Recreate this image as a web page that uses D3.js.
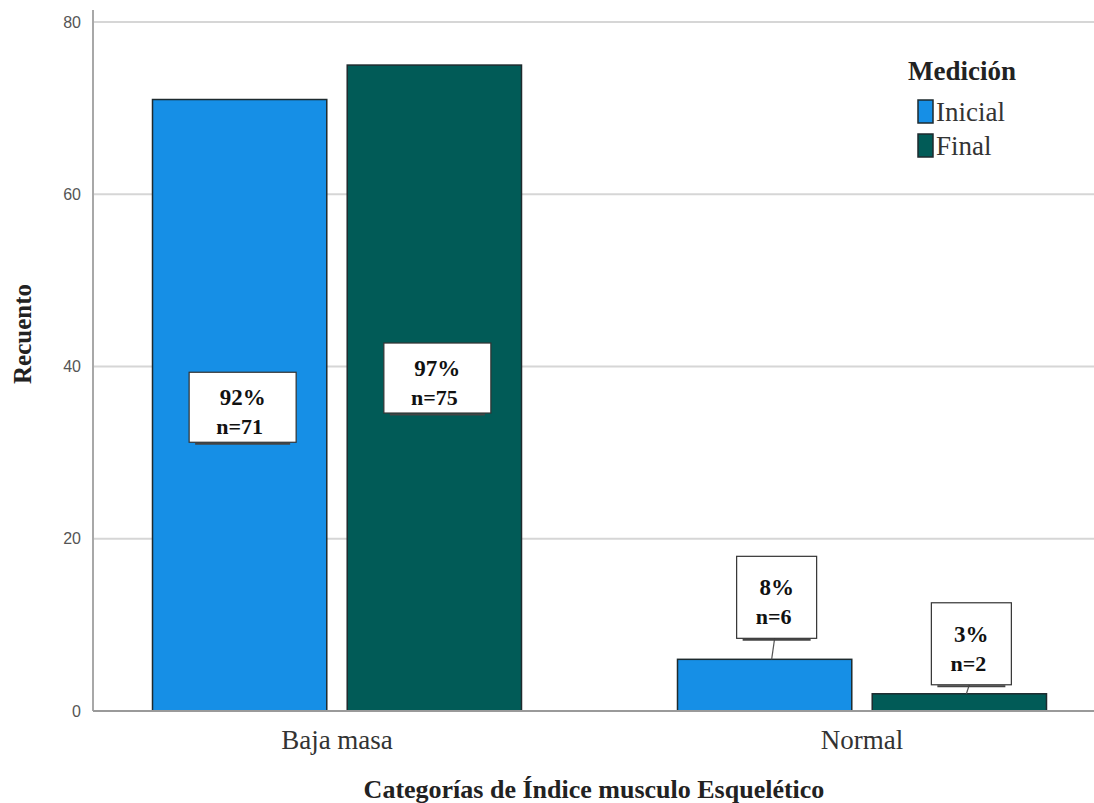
<!DOCTYPE html>
<html><head><meta charset="utf-8">
<script src="https://cdn.jsdelivr.net/npm/d3@7"></script>
<style>body{margin:0;background:#fff}svg{display:block}</style>
</head><body><div id="c"></div>
<script>
const categories = ["Baja masa", "Normal"];
const series = ["Inicial", "Final"];
const inicialValues = [71, 6];
const finalValues = [75, 2];
const inicialPct = ["92%", "8%"];
const finalPct = ["97%", "3%"];
const yTicks = [0, 20, 40, 60, 80];

const W = 1094, H = 803;
const svg = d3.select("#c").append("svg").attr("width", W).attr("height", H);
const serif = "Liberation Serif, Times New Roman, DejaVu Serif, serif";
const colors = {Inicial: "#168fe6", Final: "#015b57"};

const y = d3.scaleLinear().domain([0, 80]).range([711, 22]);
const x0 = d3.scaleBand().domain(categories).range([74.5, 1124.5]).paddingInner(0).paddingOuter(0);
const x1 = d3.scaleBand().domain(series).range([-184.5, 184.5]).paddingInner(0.105).paddingOuter(0);

svg.append("g").selectAll("line").data(yTicks.filter(d => d > 0)).join("line")
  .attr("x1", 93).attr("x2", W).attr("y1", d => y(d)).attr("y2", d => y(d))
  .attr("stroke", "#d6d6d6").attr("stroke-width", 2);

const yAxis = svg.append("g").attr("transform", "translate(93,0)")
  .call(d3.axisLeft(y).tickValues(yTicks).tickSize(0).tickPadding(12));
yAxis.select(".domain").remove();
yAxis.selectAll("text").attr("font-family", "Liberation Sans, Arial, sans-serif")
  .attr("font-size", 16).attr("fill", "#555");
svg.append("line").attr("x1", 93).attr("x2", 93).attr("y1", 10).attr("y2", 711)
  .attr("stroke", "#a8a8a8").attr("stroke-width", 2);

const rows = [];
categories.forEach((c, i) => {
  rows.push({cat: c, s: "Inicial", v: inicialValues[i], pct: inicialPct[i]});
  rows.push({cat: c, s: "Final", v: finalValues[i], pct: finalPct[i]});
});
const bx = d => x0(d.cat) + x0.bandwidth() / 2 + x1(d.s);

svg.append("g").selectAll("rect").data(rows).join("rect")
  .attr("x", d => bx(d)).attr("width", x1.bandwidth())
  .attr("y", d => y(d.v)).attr("height", d => y(0) - y(d.v))
  .attr("fill", d => colors[d.s]).attr("stroke", "#1e2a2e").attr("stroke-width", 1.5);

svg.append("line").attr("x1", 93).attr("x2", W).attr("y1", 711).attr("y2", 711)
  .attr("stroke", "#9a9a9a").attr("stroke-width", 2);

const lg = svg.append("g");
rows.forEach(d => {
  const cx = bx(d) + x1.bandwidth() / 2;
  const tall = (y(0) - y(d.v)) > 150;
  let bw, bh, bxl, byt;
  if (tall) {
    bw = 107; bh = 70;
    bxl = cx - bw / 2 + 3;
    byt = y(d.v / 2) - bh / 2 - (d.s === "Final" ? 10 : -2);
  } else {
    bw = 80; bh = 82;
    bxl = cx - bw / 2 + 12;
    byt = y(d.v) - bh - (d.s === "Inicial" ? 21 : 9);
    lg.append("line").attr("x1", cx + 10).attr("y1", byt + bh)
      .attr("x2", cx + 7).attr("y2", y(d.v)).attr("stroke", "#555").attr("stroke-width", 1.2);
  }
  lg.append("line").attr("x1", bxl + 6).attr("x2", bxl + bw - 6)
    .attr("y1", byt + bh + 1.5).attr("y2", byt + bh + 1.5).attr("stroke", "#444").attr("stroke-width", 2);
  lg.append("rect").attr("x", bxl).attr("y", byt).attr("width", bw).attr("height", bh)
    .attr("fill", "#fff").attr("stroke", "#333").attr("stroke-width", 1.2);
  const tx = bxl + bw / 2;
  lg.append("text").attr("x", tx).attr("y", byt + bh * 0.5 - 2).attr("text-anchor", "middle")
    .style("font-family", serif).attr("font-weight", "bold").attr("font-size", 23).attr("fill", "#111")
    .text(d.pct);
  lg.append("text").attr("x", tx - 3).attr("y", byt + bh * 0.5 + 27).attr("text-anchor", "middle")
    .style("font-family", serif).attr("font-weight", "bold").attr("font-size", 22).attr("fill", "#111")
    .text("n=" + d.v);
});

svg.append("g").selectAll("text").data(categories).join("text")
  .attr("x", d => x0(d) + x0.bandwidth() / 2).attr("y", 749).attr("text-anchor", "middle")
  .style("font-family", serif).attr("font-size", 27).attr("fill", "#333").text(d => d);

svg.append("text").attr("x", 594).attr("y", 798).attr("text-anchor", "middle")
  .style("font-family", serif).attr("font-weight", "bold").attr("font-size", 26).attr("fill", "#222")
  .text("Categorías de Índice musculo Esquelético");
svg.append("text").attr("transform", "translate(31,334) rotate(-90)").attr("text-anchor", "middle")
  .style("font-family", serif).attr("font-weight", "bold").attr("font-size", 25).attr("fill", "#222")
  .text("Recuento");

const leg = svg.append("g");
leg.append("text").attr("x", 908).attr("y", 80).style("font-family", serif).attr("font-weight", "bold")
  .attr("font-size", 27).attr("fill", "#222").text("Medición");
series.forEach((s, i) => {
  leg.append("rect").attr("x", 918).attr("y", 100 + i * 34).attr("width", 15).attr("height", 23)
    .attr("fill", colors[s]).attr("stroke", "#1e2a2e").attr("stroke-width", 1.5);
  leg.append("text").attr("x", 936).attr("y", 121 + i * 34).style("font-family", serif)
    .attr("font-size", 27).attr("fill", "#333").text(s);
});
</script></body></html>
